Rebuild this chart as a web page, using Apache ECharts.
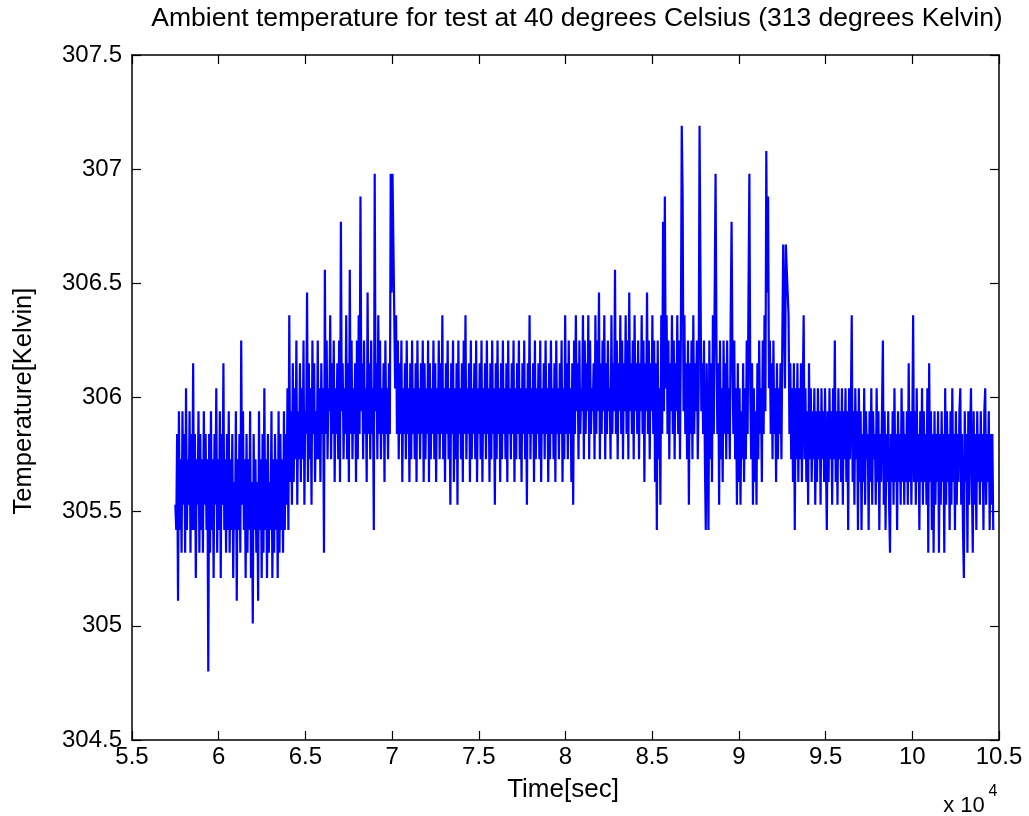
<!DOCTYPE html>
<html>
<head>
<meta charset="utf-8">
<script src="https://cdn.jsdelivr.net/npm/echarts@6/dist/echarts.min.js"></script>
<style>
html,body{margin:0;padding:0;background:#fff;}
#chart{width:1029px;height:816px;}
</style>
</head>
<body>
<div id="chart"></div>
<script>
// Sampling grid of the recording (seconds)
const tStart = 57500;
const tStep = 51.325;

// Ambient temperature readings [Kelvin] (20 samples per row)
const temps = [
  305.53,305.42, 305.84,305.11, 305.94,305.42, 305.73,305.32, 305.94,305.53, 305.84,305.32, 306.04,305.42, 305.73,305.53, 305.94,305.32, 305.84,305.42,
  306.15,305.42, 305.84,305.21, 305.73,305.53, 305.94,305.32, 305.84,305.42, 305.73,305.32, 305.94,305.53, 305.84,305.42, 305.73,304.80, 305.84,305.32,
  305.94,305.42, 305.73,305.21, 305.84,305.53, 306.04,305.32, 305.73,305.42, 305.94,305.21, 305.84,305.53, 306.15,305.42, 305.73,305.32, 305.84,305.42,
  305.94,305.32, 305.73,305.42, 305.84,305.21, 305.63,305.42, 305.94,305.11, 305.73,305.42, 305.84,305.32, 306.25,305.53, 305.94,305.42, 305.73,305.21,
  305.84,305.32, 305.73,305.42, 305.94,305.21, 305.63,305.01, 305.84,305.42, 305.73,305.32, 305.63,305.11, 305.94,305.42, 305.73,305.21, 305.84,305.32,
  306.04,305.42, 305.73,305.21, 305.84,305.32, 305.63,305.42, 305.94,305.21, 305.73,305.32, 305.84,305.42, 305.73,305.21, 305.94,305.32, 305.84,305.42,
  305.73,305.32, 305.94,305.42, 305.84,305.53, 306.04,305.42, 306.36,305.63, 305.94,305.53, 306.15,305.63, 306.04,305.73, 306.25,305.53, 305.94,305.73,
  306.15,305.63, 306.04,305.73, 306.25,305.53, 305.94,305.84, 306.46,305.63, 306.15,305.73, 306.04,305.53, 306.25,305.84, 306.15,305.63, 305.94,305.73,
  306.25,305.73, 306.04,305.63, 306.15,305.84, 306.04,305.32, 306.56,305.84, 306.25,305.73, 306.04,305.94, 306.36,305.73, 306.15,305.84, 306.25,305.63,
  306.04,305.84, 306.15,305.73, 306.25,305.63, 306.77,305.94, 306.15,305.73, 306.04,305.84, 306.36,305.73, 306.15,305.63, 306.56,305.84, 306.25,305.73,
  306.04,305.84, 306.15,305.63, 306.25,305.73, 306.36,305.84, 306.88,305.94, 306.15,305.73, 306.25,305.84, 306.04,305.63, 306.46,305.84, 306.15,305.73,
  306.25,305.84, 306.04,305.42, 306.98,305.94, 306.15,305.73, 306.36,305.84, 306.25,305.73, 306.04,305.84, 306.15,305.63, 306.25,305.84, 306.04,305.73,
  306.15,305.84, 306.98,306.46, 306.98,306.67, 306.67,306.04, 306.36,305.84, 306.25,305.73, 306.15,305.84, 306.25,305.63, 306.04,305.84, 306.15,305.73,
  306.25,305.84, 306.04,305.63, 306.15,305.73, 306.25,305.84, 306.04,305.73, 306.15,305.63, 306.25,305.84, 306.04,305.73, 306.15,305.84, 306.25,305.63,
  306.15,305.73, 306.04,305.84, 306.25,305.63, 306.15,305.73, 306.04,305.84, 306.25,305.73, 306.15,305.63, 306.04,305.84, 306.25,305.73, 306.15,305.84,
  306.36,305.73, 306.04,305.63, 306.15,305.84, 306.25,305.73, 306.04,305.53, 306.15,305.84, 306.25,305.63, 306.04,305.73, 306.15,305.53, 306.25,305.84,
  306.04,305.73, 306.15,305.63, 306.25,305.84, 306.36,305.73, 306.04,305.84, 306.15,305.63, 306.25,305.73, 306.04,305.84, 306.15,305.73, 306.25,305.63,
  306.04,305.84, 306.15,305.73, 306.25,305.63, 306.04,305.84, 306.15,305.73, 306.25,305.84, 306.04,305.63, 306.15,305.73, 306.25,305.84, 306.04,305.53,
  306.15,305.73, 306.25,305.84, 306.04,305.63, 306.15,305.73, 306.25,305.84, 306.04,305.73, 306.15,305.63, 306.25,305.84, 306.04,305.73, 306.15,305.84,
  306.25,305.63, 306.04,305.73, 306.15,305.84, 306.25,305.73, 306.04,305.63, 306.15,305.84, 306.25,305.73, 306.04,305.53, 306.15,305.84, 306.36,305.73,
  306.04,305.84, 306.15,305.63, 306.25,305.73, 306.04,305.84, 306.15,305.73, 306.25,305.63, 306.04,305.84, 306.15,305.73, 306.25,305.84, 306.04,305.63,
  306.15,305.73, 306.25,305.84, 306.04,305.73, 306.15,305.63, 306.25,305.84, 306.04,305.73, 306.15,305.84, 306.25,305.63, 306.04,305.73, 306.36,305.84,
  306.15,305.73, 306.25,305.84, 306.04,305.63, 306.15,305.53, 306.25,305.84, 306.36,305.94, 306.15,305.73, 306.25,305.84, 306.04,305.94, 306.36,305.73,
  306.25,305.84, 306.15,305.94, 306.36,305.73, 306.25,305.84, 306.04,305.94, 306.15,305.73, 306.36,305.84, 306.25,305.94, 306.46,305.73, 306.15,305.84,
  306.25,305.94, 306.36,305.73, 306.15,305.84, 306.25,305.94, 306.04,305.73, 306.36,305.84, 306.15,305.94, 306.56,305.84, 306.25,305.73, 306.15,305.94,
  306.36,305.84, 306.25,305.73, 306.15,305.94, 306.36,305.84, 306.25,305.73, 306.46,305.94, 306.15,305.84, 306.25,305.73, 306.36,305.94, 306.15,305.84,
  306.25,305.73, 306.15,305.94, 306.36,305.84, 306.25,305.63, 306.15,305.94, 306.46,305.84, 306.25,305.73, 306.15,305.94, 306.36,305.84, 306.25,305.63,
  306.15,305.42, 306.25,305.73, 306.04,305.53, 306.36,305.84, 306.77,305.94, 306.88,306.04, 306.36,305.84, 306.25,305.73, 306.15,305.94, 306.36,305.84,
  306.25,305.73, 306.15,305.94, 306.36,305.84, 306.25,305.73, 306.25,307.19, 306.88,305.94, 306.36,305.84, 306.15,305.73, 306.25,305.53, 306.15,305.84,
  306.25,305.73, 306.36,305.84, 306.15,305.94, 306.25,305.73, 306.04,307.19, 306.56,305.94, 306.15,305.84, 306.25,305.73, 305.42,306.15, 305.84,305.42,
  306.25,305.73, 306.15,305.63, 306.36,305.84, 306.46,306.98, 306.25,305.84, 306.15,305.53, 306.25,305.73, 306.04,305.63, 306.25,305.84, 306.15,305.73,
  306.25,305.84, 306.04,305.73, 306.36,306.77, 306.15,305.84, 306.25,305.73, 306.04,305.53, 306.15,305.63, 306.04,305.53, 305.94,305.73, 306.15,305.63,
  306.04,305.73, 306.25,305.84, 306.46,306.98, 306.04,305.73, 306.15,305.53, 306.04,305.63, 305.94,305.53, 306.15,305.73, 306.25,305.84, 306.04,305.63,
  306.25,305.84, 306.36,305.94, 307.08,306.46, 306.88,306.04, 306.25,305.84, 306.15,305.73, 306.25,305.84, 306.04,305.63, 306.15,305.73, 306.04,305.84,
  306.15,305.73, 306.25,306.67, 306.67,306.04, 306.67,306.56, 306.56,306.36, 305.84,306.15, 305.73,306.04, 305.63,306.15, 305.42,306.04, 305.73,306.15,
  305.63,306.04, 305.73,306.15, 305.63,306.04, 306.36,305.73, 306.04,305.63, 305.94,305.53, 306.15,305.73, 306.04,305.63, 305.94,305.73, 306.04,305.53,
  305.94,305.63, 306.04,305.73, 305.94,305.53, 306.04,305.73, 305.94,305.63, 306.04,305.73, 305.42,305.94, 305.63,306.04, 305.73,305.94, 305.53,306.04,
  305.73,306.25, 305.63,305.94, 305.53,306.04, 305.73,305.94, 305.63,306.04, 305.53,305.94, 305.73,306.04, 305.63,305.94, 305.42,306.04, 305.73,305.94,
  306.36,305.63, 305.94,305.53, 306.04,305.73, 305.94,305.42, 306.04,305.63, 305.94,305.42, 305.84,305.63, 306.04,305.53, 305.94,305.73, 305.84,305.42,
  305.94,305.63, 306.04,305.53, 305.94,305.73, 305.84,305.53, 306.04,305.63, 305.94,305.42, 305.84,305.63, 305.94,306.25, 305.53,305.94, 305.42,305.84,
  305.63,305.94, 305.53,305.32, 305.84,305.63, 305.94,305.53, 306.04,305.63, 305.84,305.42, 305.94,305.63, 305.84,305.53, 306.04,305.63, 305.94,305.53,
  305.84,305.63, 305.94,305.53, 306.15,305.63, 305.94,305.53, 305.84,306.36, 305.63,305.94, 305.53,306.04, 305.63,305.84, 305.42,305.94, 305.63,306.04,
  305.53,305.94, 305.63,305.84, 305.53,306.04, 305.32,306.15, 305.63,305.94, 305.42,305.84, 305.32,305.94, 305.53,305.84, 305.63,305.94, 305.32,305.84,
  305.53,305.94, 305.63,305.84, 305.32,306.04, 305.53,305.94, 305.63,305.84, 305.42,305.94, 305.53,306.04, 305.63,305.84, 305.42,305.94, 305.53,305.84,
  305.63,305.94, 306.04,305.53, 305.84,305.42, 305.21,305.94, 305.63,305.84, 305.32,305.94, 305.53,305.84, 306.04,305.63, 305.32,305.94, 305.53,305.84,
  305.42,305.94, 305.63,305.84, 305.53,305.94, 305.63,305.84, 305.42,305.94, 306.04,305.53, 305.84,305.63, 305.94,305.42, 305.84,305.53, 305.84,305.42
];

// Axis ticks
const xMin = 55000, xMax = 105000, xInterval = 5000;
const yMin = 304.5, yMax = 307.5, yInterval = 0.5;
const xScaleExp = 4;

const titleText = 'Ambient temperature for test at 40 degrees Celsius (313 degrees Kelvin)';
const xName = 'Time[sec]';
const yName = 'Temperature[Kelvin]';

const seriesData = temps.map((v, i) => [tStart + i * tStep, v]);

const FONT = "'Liberation Sans', Arial, Helvetica, sans-serif";

const chart = echarts.init(document.getElementById('chart'), null, {renderer: 'canvas'});

const commonX = {
  type: 'value', min: xMin, max: xMax, interval: xInterval,
  splitLine: {show: false},
  axisLine: {show: true, onZero: false, lineStyle: {color: '#000', width: 1.5}},
  axisTick: {show: true, inside: true, length: 9, lineStyle: {color: '#000', width: 1.2}}
};
const commonY = {
  type: 'value', min: yMin, max: yMax, interval: yInterval,
  splitLine: {show: false},
  axisLine: {show: true, onZero: false, lineStyle: {color: '#000', width: 1.5}},
  axisTick: {show: true, inside: true, length: 9, lineStyle: {color: '#000', width: 1.2}}
};

chart.setOption({
  animation: false,
  backgroundColor: '#fff',
  grid: {left: 132, right: 30, top: 55, bottom: 76, containLabel: false},
  xAxis: [
    Object.assign({}, commonX, {
      position: 'bottom',
      axisLabel: {
        show: true, margin: 5, color: '#000', fontSize: 24, fontFamily: FONT,
        showMinLabel: true, showMaxLabel: true, hideOverlap: false,
        formatter: v => String(+(v / Math.pow(10, xScaleExp)).toFixed(2))
      }
    }),
    Object.assign({}, commonX, {position: 'top', axisLabel: {show: false}})
  ],
  yAxis: [
    Object.assign({}, commonY, {
      position: 'left',
      axisLabel: {
        show: true, margin: 10, color: '#000', fontSize: 24, fontFamily: FONT,
        showMinLabel: true, showMaxLabel: true, hideOverlap: false,
        formatter: v => String(+v.toFixed(2))
      }
    }),
    Object.assign({}, commonY, {position: 'right', axisLabel: {show: false}})
  ],
  series: [{
    type: 'line',
    xAxisIndex: 0, yAxisIndex: 0,
    data: seriesData,
    showSymbol: false,
    symbol: 'none',
    sampling: null,
    lineStyle: {color: '#0000ff', width: 2.2, join: 'miter', miterLimit: 1},
    itemStyle: {color: '#0000ff'},
    emphasis: {disabled: true},
    silent: true
  }],
  graphic: [
    {type: 'text', x: 577, y: 19,
     style: {text: titleText, fill: '#000', font: '26.5px ' + FONT, textAlign: 'center', textVerticalAlign: 'middle'}},
    {type: 'text', x: 563, y: 790,
     style: {text: xName, fill: '#000', font: '26px ' + FONT, textAlign: 'center', textVerticalAlign: 'middle'}},
    {type: 'text', x: 24, y: 401, rotation: Math.PI / 2,
     style: {text: yName, fill: '#000', font: '25.5px ' + FONT, textAlign: 'center', textVerticalAlign: 'middle'}},
    {type: 'text', x: 964, y: 806,
     style: {text: 'x 10', fill: '#000', font: '22px ' + FONT, textAlign: 'center', textVerticalAlign: 'middle'}},
    {type: 'text', x: 993, y: 792,
     style: {text: String(xScaleExp), fill: '#000', font: '16px ' + FONT, textAlign: 'center', textVerticalAlign: 'middle'}}
  ]
});
</script>
</body>
</html>
